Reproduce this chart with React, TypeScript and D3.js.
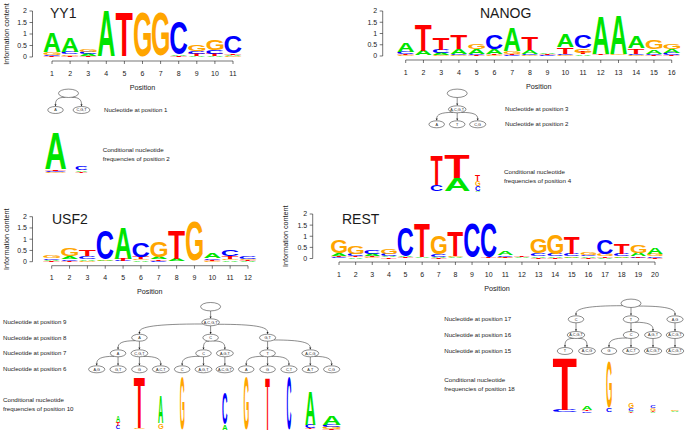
import React from "react";
import * as d3 from "d3";

const NUCS = ["A", "C", "G", "T"];
const NUC_COLORS: Record<string, string> = { A: "#00e400", C: "#0000ff", G: "#ffa500", T: "#ff0000" };
const FONT = '"Liberation Sans", Arial, Helvetica, sans-serif';
const INK = "#1a1a1a";

// ---------- YY1 ----------
const yy1Title = "YY1";
const yy1Ticks = [1, 2, 3, 4, 5, 6, 7, 8, 9, 10, 11];
const yy1A = [0.83, 0.6, 0.08, 1.95, 0.01, 0.01, 0.01, 0.05, 0.06, 0.06, 0.06];
const yy1C = [0.06, 0.1, 0.08, 0.01, 0.01, 0.01, 0.02, 1.42, 0.12, 0.15, 0.72];
const yy1G = [0.12, 0.06, 0.1, 0.01, 0.01, 1.93, 1.88, 0.02, 0.3, 0.45, 0.04];
const yy1T = [0.03, 0.05, 0.05, 0.01, 1.92, 0.01, 0.01, 0.04, 0.08, 0.08, 0.06];
const yy1TreeLevels = [["A", "C,G,T"]];
const yy1TreeParents = [[0, 0]];
const yy1LevelNames = ["Nucleotide at position 1"];
const yy1CondLabel = ["Conditional nucleotide", "frequencies of position 2"];
const yy1LeafA = [1.75, 0.07];
const yy1LeafC = [0.06, 0.15];
const yy1LeafG = [0.05, 0.02];
const yy1LeafT = [0.08, 0.05];
const yy1LeafWeights = [1.0, 0.57];

// ---------- NANOG ----------
const nanogTitle = "NANOG";
const nanogTicks = [1, 2, 3, 4, 5, 6, 7, 8, 9, 10, 11, 12, 13, 14, 15, 16];
const nanogA = [0.39, 0.2, 0.08, 0.22, 0.2, 0.2, 1.05, 0.18, 0.07, 0.55, 0.07, 1.68, 1.7, 0.5, 0.18, 0.16];
const nanogC = [0.1, 0.02, 0.14, 0.04, 0.06, 0.66, 0.04, 0.04, 0.03, 0.06, 0.6, 0.02, 0.02, 0.06, 0.06, 0.1];
const nanogG = [0.04, 0.02, 0.05, 0.03, 0.25, 0.05, 0.12, 0.03, 0.02, 0.05, 0.18, 0.02, 0.03, 0.04, 0.42, 0.22];
const nanogT = [0.06, 1.14, 0.5, 0.6, 0.05, 0.05, 0.05, 0.56, 0.03, 0.3, 0.08, 0.05, 0.02, 0.24, 0.05, 0.04];
const nanogTreeLevels = [["A,C,G,T"], ["A", "T", "C,G"]];
const nanogTreeParents = [[0], [0, 0, 0]];
const nanogLevelNames = ["Nucleotide at position 3", "Nucleotide at position 2"];
const nanogCondLabel = ["Conditional nucleotide", "frequencies of position 4"];
const nanogLeafA = [0.02, 0.7, 0.04];
const nanogLeafC = [0.32, 0.02, 0.24];
const nanogLeafG = [0.02, 0.02, 0.26];
const nanogLeafT = [1.58, 1.23, 0.3];
const nanogLeafWeights = [0.48, 1.0, 0.2];

// ---------- USF2 ----------
const usf2Title = "USF2";
const usf2Ticks = [1, 2, 3, 4, 5, 6, 7, 8, 9, 10, 11, 12];
const usf2A = [0.05, 0.1, 0.06, 0.06, 1.36, 0.06, 0.1, 0.1, 0.01, 0.2, 0.06, 0.03];
const usf2C = [0.08, 0.08, 0.13, 1.3, 0.03, 0.66, 0.05, 0.02, 0.01, 0.08, 0.26, 0.12];
const usf2G = [0.13, 0.36, 0.05, 0.03, 0.02, 0.06, 0.72, 0.01, 1.77, 0.04, 0.08, 0.06];
const usf2T = [0.04, 0.05, 0.28, 0.02, 0.08, 0.1, 0.06, 1.28, 0.01, 0.05, 0.1, 0.05];
const usf2TreeLevels = [
  ["A,C,G,T"],
  ["A", "C", "G,T"],
  ["A", "C,G,T", "C", "A,G,T", "T", "A,C,G"],
  ["A,G", "G,T", "G", "A,C,T", "C", "A,G,T", "A,C,G,T", "A", "G", "C,T", "A,T", "C,G"],
];
const usf2TreeParents = [[0], [0, 0, 0], [0, 0, 1, 1, 2, 2], [0, 0, 1, 1, 2, 2, 3, 4, 4, 4, 5, 5]];
const usf2LevelNames = [
  "Nucleotide at position 9",
  "Nucleotide at position 8",
  "Nucleotide at position 7",
  "Nucleotide at position 6",
];
const usf2CondLabel = ["Conditional nucleotide", "frequencies of position 10"];
const usf2LeafA = [0, 0.24, 0.02, 1.03, 0, 0, 0.2, 0, 0, 0, 1.3, 0.36];
const usf2LeafC = [0, 0.13, 0, 0.02, 0, 0, 1.2, 0, 0, 2.0, 0.14, 0.08];
const usf2LeafG = [0, 0.02, 0.04, 0.22, 2.0, 0, 0, 2.0, 0, 0, 0.02, 0.07];
const usf2LeafT = [0, 0.15, 1.92, 0.02, 0, 0, 0, 0, 2.0, 0, 0.05, 0.05];
const usf2LeafWeights = [0.2, 0.22, 0.61, 0.28, 0.25, 0.2, 0.28, 0.28, 0.25, 0.25, 0.56, 1.0];

// ---------- REST ----------
const restTitle = "REST";
const restTicks = [1, 2, 3, 4, 5, 6, 7, 8, 9, 10, 11, 12, 13, 14, 15, 16, 17, 18, 19, 20];
const restA = [0.12, 0.05, 0.1, 0.06, 0.06, 0.03, 0.05, 0.04, 0.01, 0.01, 0.15, 0.03, 0.06, 0.06, 0.05, 0.06, 0.04, 0.06, 0.15, 0.26];
const restC = [0.05, 0.1, 0.16, 0.1, 1.28, 0.02, 0.12, 0.02, 1.55, 1.52, 0.06, 0.02, 0.12, 0.1, 0.12, 0.06, 0.66, 0.12, 0.04, 0.06];
const restG = [0.6, 0.32, 0.05, 0.22, 0.02, 0.01, 0.8, 0.06, 0.01, 0.01, 0.03, 0.01, 0.62, 0.86, 0.04, 0.12, 0.12, 0.04, 0.36, 0.1];
const restT = [0.06, 0.05, 0.07, 0.05, 0.03, 1.5, 0.03, 1.1, 0.01, 0.03, 0.05, 0.05, 0.04, 0.04, 0.74, 0.04, 0.05, 0.48, 0.06, 0.04];
const restTreeLevels = [
  ["C", "T", "A,G"],
  ["A,C,G,T", "C", "A,G,T", "A,C,G,T"],
  ["T", "A,C,G", "G", "A,C,T", "A,C,G,T", "A,C,G,T"],
];
const restTreeParents = [[0, 0, 0], [0, 1, 1, 2], [0, 0, 1, 1, 2, 3]];
const restLevelNames = ["Nucleotide at position 17", "Nucleotide at position 16", "Nucleotide at position 15"];
const restCondLabel = ["Conditional nucleotide", "frequencies of position 18"];
const restLeafA = [0.02, 0.14, 0.02, 0.05, 0.04, 0.03];
const restLeafC = [0.08, 0.05, 0.16, 0.09, 0.1, 0.02];
const restLeafG = [0.02, 0.02, 1.68, 0.18, 0.09, 0.03];
const restLeafT = [1.92, 0.06, 0.02, 0.04, 0.05, 0.02];
const restLeafWeights = [1.0, 0.42, 0.23, 0.21, 0.21, 0.33];

// ---------- glyph metrics ----------
type Glyph = { left: number; right: number; top: number; bottom: number };
const FALLBACK: Record<string, Glyph> = {
  A: { left: 0, right: 72, top: -72, bottom: 0 },
  C: { left: 4, right: 68, top: -73.5, bottom: 1.5 },
  G: { left: 4, right: 73, top: -73.5, bottom: 1.5 },
  T: { left: 2, right: 59, top: -72, bottom: 0 },
};
let glyphCache: Record<string, Glyph> | null = null;
function glyphs(): Record<string, Glyph> {
  if (glyphCache) return glyphCache;
  const out: Record<string, Glyph> = { ...FALLBACK };
  try {
    const cv = document.createElement("canvas");
    const ctx = cv.getContext("2d");
    if (ctx) {
      ctx.font = 'bold 100px "Liberation Sans", Arial, sans-serif';
      for (const L of NUCS) {
        const m = ctx.measureText(L);
        const g = {
          left: -m.actualBoundingBoxLeft,
          right: m.actualBoundingBoxRight,
          top: -m.actualBoundingBoxAscent,
          bottom: m.actualBoundingBoxDescent,
        };
        if (g.right - g.left > 20 && g.bottom - g.top > 40) out[L] = g;
      }
    }
  } catch (e) {
    /* keep fallback */
  }
  glyphCache = out;
  return out;
}

function Letter({ ch, x, yb, w, h }: { ch: string; x: number; yb: number; w: number; h: number }) {
  if (h < 0.6 || w <= 0.5) return null;
  const g = glyphs()[ch];
  const sx = w / (g.right - g.left);
  const sy = h / (g.bottom - g.top);
  return (
    <text
      transform={`translate(${x},${yb}) scale(${sx},${sy}) translate(${-g.left},${-g.bottom})`}
      fontFamily={FONT}
      fontWeight="bold"
      fontSize={100}
      fill={NUC_COLORS[ch]}
    >
      {ch}
    </text>
  );
}

function Stack({ cx, w, bits, y }: { cx: number; w: number; bits: Record<string, number>; y: (v: number) => number }) {
  const entries = NUCS.map((n) => [n, bits[n]] as [string, number])
    .filter((d) => d[1] > 0)
    .sort((a, b) => a[1] - b[1]);
  let acc = 0;
  return (
    <g>
      {entries.map(([n, v]) => {
        const yb = y(acc);
        const yt = y(acc + v);
        acc += v;
        return <Letter key={n} ch={n} x={cx - w / 2} yb={yb} w={w} h={yb - yt} />;
      })}
    </g>
  );
}

type PanelLayout = {
  axisX: number;
  y0: number;
  y2: number;
  xFirst: number;
  xLast: number;
  titleX: number;
  titleY: number;
  ylabX: number | null;
  axisOff: number;
};

function LogoPanel(props: {
  title: string;
  ticks: number[];
  A: number[];
  C: number[];
  G: number[];
  T: number[];
  L: PanelLayout;
}) {
  const { title, ticks, A, C, G, T, L } = props;
  const n = ticks.length;
  const x = d3.scaleLinear().domain([ticks[0], ticks[n - 1]]).range([L.xFirst, L.xLast]);
  const y = d3.scaleLinear().domain([0, 2]).range([L.y0, L.y2]);
  const step = (L.xLast - L.xFirst) / (n - 1);
  const w = step * 0.94;
  const yTicks = [0, 0.5, 1, 1.5, 2];
  const axisY = L.y0 + L.axisOff;
  return (
    <g>
      {ticks.map((t, i) => (
        <Stack key={t} cx={x(t)} w={w} bits={{ A: A[i], C: C[i], G: G[i], T: T[i] }} y={y} />
      ))}
      <line x1={L.axisX} x2={L.axisX} y1={y(0)} y2={y(2)} stroke={INK} strokeWidth={0.6} />
      {yTicks.map((v) => (
        <g key={v}>
          <line x1={L.axisX - 3} x2={L.axisX} y1={y(v)} y2={y(v)} stroke={INK} strokeWidth={0.6} />
          <text x={L.axisX - 5.5} y={y(v)} dy="0.35em" textAnchor="end" fontSize={7} fontFamily={FONT} fill={INK}>
            {String(v)}
          </text>
        </g>
      ))}
      <line x1={x(ticks[0])} x2={x(ticks[n - 1])} y1={axisY} y2={axisY} stroke={INK} strokeWidth={0.6} />
      {ticks.map((t) => (
        <g key={t}>
          <line x1={x(t)} x2={x(t)} y1={axisY} y2={axisY + 3} stroke={INK} strokeWidth={0.6} />
          <text x={x(t)} y={L.y0 + 18.5} textAnchor="middle" fontSize={7} fontFamily={FONT} fill={INK}>
            {t}
          </text>
        </g>
      ))}
      <text
        x={(x(ticks[0]) + x(ticks[n - 1])) / 2}
        y={L.y0 + 32.5}
        textAnchor="middle"
        fontSize={7.2}
        fontFamily={FONT}
        fill={INK}
      >
        Position
      </text>
      <text x={L.titleX} y={L.titleY} fontSize={14} fontFamily={FONT} fill={INK}>
        {title}
      </text>
      {L.ylabX != null && (
        <text
          transform={`translate(${L.ylabX},${(L.y0 + L.y2) / 2}) rotate(-90)`}
          textAnchor="middle"
          fontSize={7.2}
          fontFamily={FONT}
          fill={INK}
        >
          Information content
        </text>
      )}
    </g>
  );
}

type TreeLayout = {
  rootY: number;
  ys: number[];
  leafX0: number;
  leafStep: number;
  labelX: number;
  logoBase: number;
  bitPx: number;
  maxW: number;
  condX: number;
  condY: number[];
};

type TNode = { label: string; x: number; y: number; rx: number; ry: number; parent: TNode | null; children: TNode[] };

function wmedian(items: [number, number][]) {
  const s = items.slice().sort((a, b) => a[0] - b[0]);
  const W = d3.sum(s, (d) => d[1]);
  let c = 0;
  for (let i = 0; i < s.length; i++) {
    c += s[i][1];
    if (Math.abs(c - W / 2) < 1e-9 && i + 1 < s.length) return (s[i][0] + s[i + 1][0]) / 2;
    if (c > W / 2) return s[i][0];
  }
  return s[s.length - 1][0];
}

function Tree(props: {
  levels: string[][];
  parents: number[][];
  levelNames: string[];
  cond: string[];
  leafA: number[];
  leafC: number[];
  leafG: number[];
  leafT: number[];
  weights: number[];
  L: TreeLayout;
}) {
  const { levels, parents, levelNames, cond, leafA, leafC, leafG, leafT, weights, L } = props;
  const root: TNode = { label: "", x: 0, y: L.rootY, rx: 10, ry: 4.2, parent: null, children: [] };
  const all: TNode[][] = [[root]];
  levels.forEach((lab, li) => {
    const row: TNode[] = lab.map((s, i) => {
      const p = all[li][parents[li][i]];
      const nd: TNode = { label: s, x: 0, y: L.ys[li], rx: 7.6 + 0.17 * s.length, ry: 3.5, parent: p, children: [] };
      p.children.push(nd);
      return nd;
    });
    all.push(row);
  });
  const leaves = all[all.length - 1];
  const leafScale = d3
    .scaleLinear()
    .domain([0, leaves.length - 1])
    .range([L.leafX0, L.leafX0 + (leaves.length - 1) * L.leafStep]);
  leaves.forEach((nd, i) => (nd.x = leafScale(i)));
  for (let l = all.length - 2; l >= 0; l--) all[l].forEach((nd) => (nd.x = d3.mean(nd.children, (c) => c.x) as number));
  for (let it = 0; it < 30; it++) {
    for (let l = all.length - 2; l >= 0; l--) {
      all[l].forEach((nd) => {
        const items: [number, number][] = nd.children.map((c) => [c.x, 1] as [number, number]);
        if (nd.parent) items.push([nd.parent.x, 0.9]);
        nd.x = wmedian(items);
      });
    }
  }
  const nodes = all.flat();
  const edges = nodes.filter((n) => n.parent);
  const yBits = d3.scaleLinear().domain([0, 2]).range([L.logoBase, L.logoBase - 2 * L.bitPx]);
  const wScale = d3.scaleLinear().domain([0, 1]).range([0, L.maxW]);

  return (
    <g>
      {edges.map((c, i) => {
        const p = c.parent as TNode;
        const dx = c.x - p.x;
        const dy = c.y - p.y;
        const tipY = c.y - c.ry;
        const ey = tipY - 2.2;
        let d: string;
        if (Math.abs(dx) < 1) {
          d = `M${p.x},${p.y + p.ry}L${c.x},${ey}`;
        } else {
          const t = Math.atan2(dy / p.ry, dx / p.rx);
          const sx = p.x + p.rx * Math.cos(t);
          const sy = p.y + p.ry * Math.sin(t);
          d = `M${sx},${sy}C${sx + (c.x - sx) * 0.75},${sy},${c.x},${sy + (ey - sy) * 0.35},${c.x},${ey}`;
        }
        return (
          <g key={i}>
            <path d={d} fill="none" stroke={INK} strokeWidth={0.5} />
            <polygon points={`${c.x - 1},${ey} ${c.x + 1},${ey} ${c.x},${tipY}`} fill={INK} />
          </g>
        );
      })}
      {nodes.map((nd, i) => (
        <g key={i}>
          <ellipse cx={nd.x} cy={nd.y} rx={nd.rx} ry={nd.ry} fill="#fff" stroke={INK} strokeWidth={0.5} />
          {nd.label && (
            <text
              x={nd.x}
              y={nd.y}
              dy="0.35em"
              textAnchor="middle"
              fontSize={3.8}
              fontFamily={FONT}
              fill={INK}
            >
              {nd.label}
            </text>
          )}
        </g>
      ))}
      {levelNames.map((s, i) => (
        <text key={s} x={L.labelX} y={L.ys[i]} dy="0.35em" fontSize={6.1} fontFamily={FONT} fill={INK}>
          {s}
        </text>
      ))}
      {leaves.map((nd, i) => (
        <Stack
          key={i}
          cx={nd.x}
          w={wScale(weights[i])}
          bits={{ A: leafA[i], C: leafC[i], G: leafG[i], T: leafT[i] }}
          y={yBits}
        />
      ))}
      {cond.map((s, i) => (
        <text key={s} x={L.condX} y={L.condY[i]} dy="0.35em" fontSize={6.2} fontFamily={FONT} fill={INK}>
          {s}
        </text>
      ))}
    </g>
  );
}

const yy1Layout: PanelLayout = { axisX: 32.5, y0: 57, y2: 11, xFirst: 52, xLast: 233, titleX: 50, titleY: 17.5, ylabX: 8.5, axisOff: 4 };
const nanogLayout: PanelLayout = { axisX: 382.7, y0: 56, y2: 11, xFirst: 405.7, xLast: 671.7, titleX: 480, titleY: 18.3, ylabX: null, axisOff: 4 };
const usf2Layout: PanelLayout = { axisX: 32.5, y0: 261.7, y2: 216.7, xFirst: 51.7, xLast: 248, titleX: 52, titleY: 224, ylabX: 8.5, axisOff: 4 };
const restLayout: PanelLayout = { axisX: 312.7, y0: 258.5, y2: 214, xFirst: 339, xLast: 655, titleX: 342, titleY: 223.5, ylabX: 287.5, axisOff: 3.5 };

const yy1TreeLayout: TreeLayout = { rootY: 93.3, ys: [110], leafX0: 55.5, leafStep: 26, labelX: 104, logoBase: 173, bitPx: 21, maxW: 21, condX: 102.7, condY: [150, 159] };
const nanogTreeLayout: TreeLayout = { rootY: 93.3, ys: [109.3, 124.3], leafX0: 436.7, leafStep: 20.5, labelX: 505, logoBase: 191.7, bitPx: 19, maxW: 25, condX: 504, condY: [171.7, 180.7] };
const usf2TreeLayout: TreeLayout = { rootY: 306.7, ys: [322.3, 337.7, 353.3, 369.3], leafX0: 96.7, leafStep: 21.36, labelX: 3, logoBase: 430, bitPx: 26, maxW: 18, condX: 3, condY: [400, 409] };
const restTreeLayout: TreeLayout = { rootY: 303.3, ys: [319.3, 335, 351], leafX0: 565, leafStep: 22, labelX: 444.3, logoBase: 413.3, bitPx: 27, maxW: 24, condX: 444.3, condY: [380, 389] };

export default function App() {
  return (
    <svg
      width={685}
      height={431}
      viewBox="0 0 685 431"
      style={{ position: "absolute", left: 0, top: 0, background: "#fff" }}
    >
      <rect width={685} height={431} fill="#fff" />
      <LogoPanel title={yy1Title} ticks={yy1Ticks} A={yy1A} C={yy1C} G={yy1G} T={yy1T} L={yy1Layout} />
      <LogoPanel title={nanogTitle} ticks={nanogTicks} A={nanogA} C={nanogC} G={nanogG} T={nanogT} L={nanogLayout} />
      <LogoPanel title={usf2Title} ticks={usf2Ticks} A={usf2A} C={usf2C} G={usf2G} T={usf2T} L={usf2Layout} />
      <LogoPanel title={restTitle} ticks={restTicks} A={restA} C={restC} G={restG} T={restT} L={restLayout} />
      <Tree levels={yy1TreeLevels} parents={yy1TreeParents} levelNames={yy1LevelNames} cond={yy1CondLabel}
        leafA={yy1LeafA} leafC={yy1LeafC} leafG={yy1LeafG} leafT={yy1LeafT} weights={yy1LeafWeights} L={yy1TreeLayout} />
      <Tree levels={nanogTreeLevels} parents={nanogTreeParents} levelNames={nanogLevelNames} cond={nanogCondLabel}
        leafA={nanogLeafA} leafC={nanogLeafC} leafG={nanogLeafG} leafT={nanogLeafT} weights={nanogLeafWeights} L={nanogTreeLayout} />
      <Tree levels={usf2TreeLevels} parents={usf2TreeParents} levelNames={usf2LevelNames} cond={usf2CondLabel}
        leafA={usf2LeafA} leafC={usf2LeafC} leafG={usf2LeafG} leafT={usf2LeafT} weights={usf2LeafWeights} L={usf2TreeLayout} />
      <Tree levels={restTreeLevels} parents={restTreeParents} levelNames={restLevelNames} cond={restCondLabel}
        leafA={restLeafA} leafC={restLeafC} leafG={restLeafG} leafT={restLeafT} weights={restLeafWeights} L={restTreeLayout} />
    </svg>
  );
}
